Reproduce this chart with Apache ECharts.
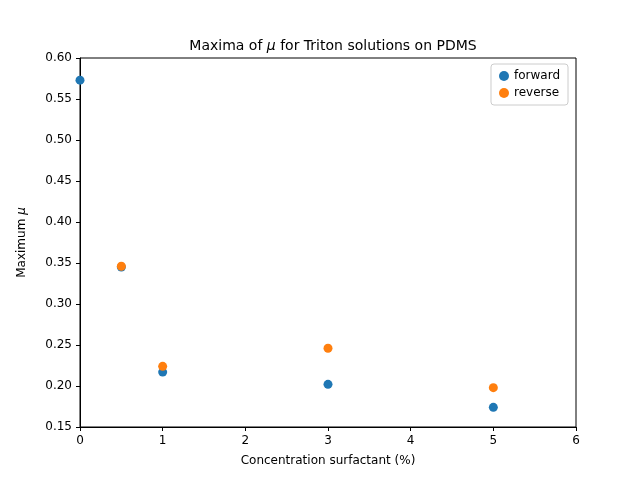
<!DOCTYPE html>
<html>
<head>
<meta charset="utf-8">
<script src="https://cdn.jsdelivr.net/npm/echarts@6/dist/echarts.min.js"></script>
<style>html,body{margin:0;padding:0;background:#fff}#chart{width:640px;height:480px}</style>
</head>
<body>
<div id="chart"></div>
<script>
// Data
const forwardData = [[0, 0.573], [0.5, 0.345], [1, 0.217], [3, 0.202], [5, 0.174]];
const reverseData = [[0.5, 0.346], [1, 0.224], [3, 0.246], [5, 0.198]];

const chart = echarts.init(document.getElementById('chart'));
const font = 'DejaVu Sans';
chart.setOption({
  animation: false,
  textStyle: { fontFamily: font },
  title: {
    text: 'Maxima of {i|μ} for Triton solutions on PDMS',
    left: 328, top: 34, textAlign: 'center',
    textStyle: {
      fontSize: 14, fontWeight: 'normal', color: '#000', fontFamily: font,
      rich: { i: { fontStyle: 'italic', fontSize: 14, fontFamily: font } }
    }
  },
  legend: {
    right: 72, top: 64, orient: 'vertical', itemGap: 5,
    itemWidth: 10, itemHeight: 10, icon: 'circle',
    borderColor: '#ccc', borderWidth: 1, borderRadius: 3, padding: [6, 8],
    textStyle: { fontSize: 12, color: '#000' },
    data: ['forward', 'reverse']
  },
  grid: { left: 80, right: 64, top: 58, bottom: 53 },
  xAxis: {
    type: 'value', min: 0, max: 6, interval: 1,
    name: 'Concentration surfactant (%)', nameLocation: 'middle', nameGap: 28,
    nameTextStyle: { fontSize: 12, color: '#000' },
    axisLine: { onZero: false, lineStyle: { color: '#000' } },
    axisTick: { show: true, length: 4, inside: false, lineStyle: { color: '#000' } },
    axisLabel: { color: '#000', fontSize: 12 },
    splitLine: { show: false }
  },
  yAxis: {
    type: 'value', min: 0.15, max: 0.6, interval: 0.05,
    name: 'Maximum {i|μ}', nameLocation: 'middle', nameGap: 52,
    nameTextStyle: { fontSize: 12, color: '#000', rich: { i: { fontStyle: 'italic', fontSize: 12 } } },
    axisLine: { show: true, lineStyle: { color: '#000' } },
    axisTick: { show: true, length: 4, lineStyle: { color: '#000' } },
    axisLabel: { color: '#000', fontSize: 12, formatter: v => v.toFixed(2) },
    splitLine: { show: false }
  },
  series: [
    { name: 'forward', type: 'scatter', data: forwardData, symbolSize: 9, itemStyle: { color: '#1f77b4', opacity: 1 } },
    { name: 'reverse', type: 'scatter', data: reverseData, symbolSize: 9, itemStyle: { color: '#ff7f0e', opacity: 1 } }
  ]
});
// box around plot area
chart.setOption({
  graphic: [{ type: 'rect', shape: { x: 80, y: 58, width: 496, height: 369 }, style: { fill: 'none', stroke: '#000', lineWidth: 1 }, silent: true, z: 0 }]
});
</script>
</body>
</html>
